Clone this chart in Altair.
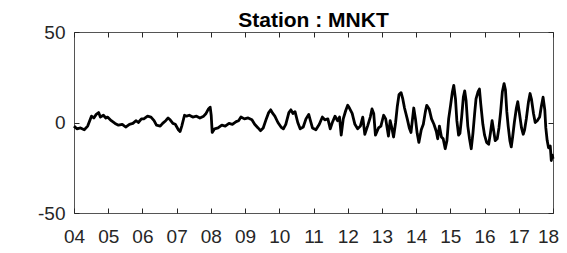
import altair as alt
import pandas as pd

# Time (decimal year) and value
years = [
    4.00, 4.085, 4.19, 4.30, 4.40, 4.51, 4.58, 4.65, 4.72, 4.77, 4.86, 4.93, 4.98,
    5.09, 5.20, 5.30, 5.41, 5.51, 5.62, 5.72, 5.81, 5.88, 5.97, 6.04, 6.15, 6.25,
    6.34, 6.41, 6.52, 6.59, 6.68, 6.75, 6.81, 6.89, 6.96, 7.05, 7.10, 7.15, 7.23,
    7.29, 7.37, 7.47, 7.58, 7.68, 7.79, 7.86, 7.93, 7.98, 8.01, 8.04, 8.11, 8.21,
    8.32, 8.42, 8.53, 8.63, 8.74, 8.81, 8.88, 8.98, 9.09, 9.20, 9.28, 9.38, 9.45,
    9.53, 9.62, 9.69, 9.75, 9.81, 9.87, 9.96, 10.05, 10.12, 10.19, 10.28, 10.34,
    10.40, 10.46, 10.54, 10.61, 10.70, 10.78, 10.86, 10.91, 10.97, 11.07, 11.17,
    11.26, 11.33, 11.42, 11.49, 11.55, 11.63, 11.70, 11.76, 11.81, 11.87, 11.94,
    12.00, 12.05, 12.13, 12.21, 12.29, 12.37, 12.44, 12.50, 12.58, 12.66, 12.71,
    12.76, 12.81, 12.90, 12.97, 13.05, 13.11, 13.19, 13.24, 13.29, 13.34, 13.40,
    13.45, 13.50, 13.56, 13.61, 13.66, 13.74, 13.80, 13.85, 13.93, 13.98, 14.03,
    14.08, 14.15, 14.21, 14.27, 14.31, 14.38, 14.45, 14.52, 14.59, 14.63, 14.68,
    14.74, 14.79, 14.85, 14.90, 14.95, 15.01, 15.06, 15.10, 15.15, 15.19, 15.24,
    15.28, 15.33, 15.38, 15.42, 15.46, 15.51, 15.56, 15.61, 15.66, 15.71, 15.75,
    15.81, 15.85, 15.89, 15.95, 16.00, 16.06, 16.12, 16.17, 16.22, 16.27, 16.31,
    16.37, 16.42, 16.47, 16.52, 16.57, 16.61, 16.65, 16.69, 16.74, 16.78, 16.82,
    16.87, 16.93, 16.97, 17.02, 17.08, 17.13, 17.17, 17.22, 17.28, 17.33, 17.37,
    17.43, 17.48, 17.54, 17.61, 17.66, 17.71, 17.76, 17.79, 17.83, 17.87, 17.92,
    17.95, 17.98, 18.00,
]
values = [
    -2, -3.5, -3, -4, -2, 3.5, 2.5, 4.5, 5.5, 3, 4, 2.5, 3,
    1, -0.5, -1.5, -1, -2.5, -1, -0.5, 1, 0, 2, 2, 3.5, 3,
    1, -1.5, -2, -0.5, 1, 2.5, 1.5, -0.5, -1, -4, -5, -2, 4,
    3.5, 4, 3, 3.5, 2.5, 3.5, 5, 7.5, 8.5, 4, -5.5, -3.5, -3,
    -1.5, -2, -0.5, -1, 0.5, 1, 3, 2, 2.5, 1.5, -1, -3, -4.5,
    -3, 2, 5.5, 7, 5, 3.5, 0, -2.5, -3.5, -1, 5.5, 7,
    5, 6, 0, -3.5, -2.5, 2, 4.5, 1, -3, -4, -1,
    3, 1.5, 2, -3.5, 0, 3.5, 1, 3, -7, 2, 6.5,
    9.5, 8, 5, -1, -3.5, -2, 3, -6.5, -2, 3, 7.5,
    5, -7, -3, -2, 4, 2, -7.5, 1, -3, -8, 0,
    9, 15.5, 16.5, 13, 8, 2, -3, -5.5, 8, 2, -6,
    -11, -4, -1, 6, 9.5, 7.5, 2, -1, -5, -9, -2,
    -8, -9, -14.5, -10, 2, 10, 17, 20.5, 13, 1, -7,
    -6, 3, 14, 17.5, 12, -2, -9, -14.5, -6, 5, 13,
    17, 18.5, 10, -1, -7, -11, -12, -6, 1, -5, -10,
    -9, -3, 6, 17, 21.5, 18, 6, -2, -10, -13.5, -8,
    0, 8, 11.5, 5, -3, -6.5, -4, 2, 11, 16, 13,
    5, 0, 1, 3, 9, 14, 7, -3, -10, -14, -13,
    -21, -18, -20,
]
year_ticks = list(range(2004, 2019))
value_ticks = [-50, 0, 50]

df = pd.DataFrame({"year": [2000 + y for y in years], "value": values})

FONT = "Liberation Sans"
GRAY = "#262626"

xscale = alt.Scale(domain=[2004, 2018], nice=False, zero=False)
yscale = alt.Scale(domain=[-50, 50], nice=False, zero=False)

line = alt.Chart(df).mark_line(color="black", strokeWidth=2.8, strokeJoin="round").encode(
    x=alt.X("year:Q", scale=xscale, title=None,
            axis=alt.Axis(values=year_ticks, format="d", labelExpr="slice(datum.label, 2)",
                          orient="bottom", offset=-5, tickSize=5, domain=False,
                          labelPadding=14, grid=False, labelFontSize=19, labelFont=FONT,
                          labelColor=GRAY, tickColor=GRAY, labelFlush=False,
                          labelOffset=alt.condition("datum.value == 2018",
                                                    alt.value(-5), alt.value(0)))),
    y=alt.Y("value:Q", scale=yscale, title=None,
            axis=alt.Axis(values=value_ticks, labelExpr="toString(datum.value)",
                          orient="left", offset=-5, tickSize=5,
                          domain=False, labelPadding=9, grid=False, labelFontSize=19,
                          labelFont=FONT, labelColor=GRAY, tickColor=GRAY)),
)

frame = alt.Chart(df).mark_line(opacity=0).encode(
    x=alt.X("year:Q", scale=xscale, title=None,
            axis=alt.Axis(values=year_ticks, orient="top", offset=-5, tickSize=5,
                          domain=False, labels=False, grid=False, tickColor=GRAY)),
    y=alt.Y("value:Q", scale=yscale, title=None,
            axis=alt.Axis(values=value_ticks, orient="right", offset=-5, tickSize=5,
                          domain=False, labels=False, grid=False, tickColor=GRAY)),
)

chart = (
    alt.layer(frame, line)
    .resolve_scale(x="independent", y="independent")
    .properties(
        width=479,
        height=181,
        title=alt.TitleParams("Station : MNKT", font=FONT, fontSize=21, fontWeight="bold",
                              color="black", anchor="middle", offset=-8),
        autosize=alt.AutoSizeParams(type="none"),
        padding={"left": 66, "top": 24, "right": 6, "bottom": 32},
    )
    .configure_view(stroke="#555555", strokeWidth=1)
)

chart.save("out.html", embed_options={"renderer": "svg", "actions": False})
